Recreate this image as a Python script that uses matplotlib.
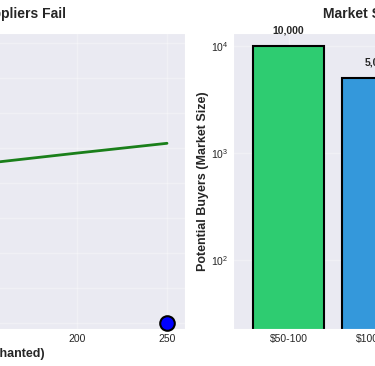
import matplotlib
matplotlib.use("Agg")
import matplotlib.pyplot as plt
import seaborn as sns

sns.set_style("darkgrid")
plt.rcParams['font.family'] = ['Liberation Sans', 'DejaVu Sans']

# ---- data ----
# left panel
quantity = [50, 100, 150, 200, 250]
supply_curve = [40.0, 42.9, 45.7, 48.6, 51.4]
fail_point_x = [250]
fail_point_y = [0]

# right panel
price_ranges = ["$50-100", "$100-200", "$200-500", "$500+"]
buyers = [10000, 5000, 2000, 500]
bar_colors = ["#2ecc71", "#3498db", "#e74c3c", "#9b59b6"]
value_labels = ["10,000", "5,000", "2,000", "500"]

W, H = 375, 366
fig = plt.figure(figsize=(W / 100, H / 100), dpi=100)

def rect(l, r, t, b):
    return [l / W, 1 - b / H, (r - l) / W, (b - t) / H]

grid_kw = dict(color="white", alpha=0.3, linewidth=1)

# ---- left axes (mostly off-canvas) ----
ax1 = fig.add_axes(rect(-211, 185, 33, 329))
ax1.plot(quantity, supply_curve, color="#1a7f1a", lw=2)
ax1.scatter(fail_point_x, fail_point_y, s=110, color="blue", edgecolor="black",
            linewidth=1.5, zorder=5, clip_on=False)
ax1.set_xlim(40, 260)
ax1.set_ylim(-1.8, 83.0)
ax1.set_xticks([50, 100, 150, 200, 250])
ax1.set_yticks([0, 10, 20, 30, 40, 50, 60, 70, 80])
ax1.grid(True, **grid_kw)
ax1.tick_params(labelsize=7.5, colors="#262626", length=0, pad=3.5)
ax1.set_title("When Suppliers Fail", fontsize=10, fontweight="bold", pad=11, x=0.532)
ax1.set_xlabel("Quantity (Enchanted)", fontsize=9, fontweight="bold", labelpad=3)
ax1.xaxis.label.set_x(0.485)

# ---- right axes ----
ax2 = fig.add_axes(rect(233, 629, 33, 329))
x = list(range(len(price_ranges)))
ax2.bar(x, buyers, width=0.8, color=bar_colors, edgecolor="black", linewidth=1.5)
ax2.set_yscale("log")
ax2.set_ylim(22.6, 13200)
ax2.set_xlim(-0.624, 3.826)
ax2.set_xticks(x)
ax2.set_xticklabels(price_ranges)
ax2.grid(True, which="major", **grid_kw)
for xi, v, lab in zip(x, buyers, value_labels):
    ax2.text(xi, v * 1.25, lab, ha="center", va="bottom", fontsize=7.5, fontweight="bold")
ax2.tick_params(labelsize=7.5, colors="#262626", length=0, pad=3.5)
ax2.tick_params(which="minor", length=0)
ax2.set_ylabel("Potential Buyers (Market Size)", fontsize=9, fontweight="bold", labelpad=1)
ax2.set_title("Market Size by Price Range", fontsize=10, fontweight="bold", pad=11, x=0.455)

fig.savefig("out.png", dpi=100)
